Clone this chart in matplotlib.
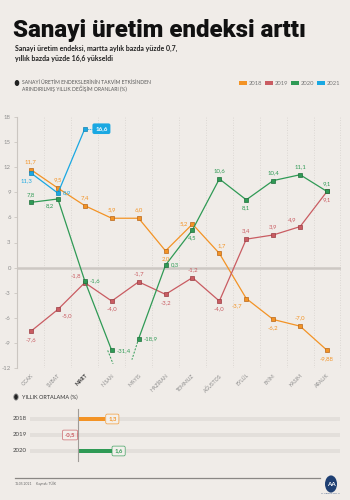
import matplotlib
matplotlib.use("Agg")
import matplotlib.pyplot as plt
from matplotlib.patches import Rectangle, Circle

# data
months = ["OCAK", "ŞUBAT", "MART", "NİSAN", "MAYIS", "HAZİRAN",
          "TEMMUZ", "AĞUSTOS", "EYLÜL", "EKİM", "KASIM", "ARALIK"]
v2018 = [11.7, 9.5, 7.4, 5.9, 5.9, 2.0, 5.2, 1.7, -3.7, -6.2, -7.0, -9.88]
v2019 = [-7.6, -5.0, -1.8, -4.0, -1.7, -3.2, -1.2, -4.0, 3.4, 3.9, 4.9, 9.1]
v2020 = [7.8, 8.2, -1.6, -31.4, -18.9, 0.3, 4.5, 10.6, 8.1, 10.4, 11.1, 9.1]
v2021 = [11.3, 8.9, 16.6]
# off-scale 2020 points are drawn at these levels in the original
off_scale_2020 = {3: -9.9, 4: -8.5}
lab2018 = ["11,7", "9,5", "7,4", "5,9", "6,0", "2,0", "5,2", "1,7", "-3,7", "-6,2", "-7,0", "-9,88"]

years = ["2018", "2019", "2020"]
avg = [1.3, -0.5, 1.6]

BG = "#f0ece8"
C18, C19, C20, C21 = "#f39325", "#c95c62", "#2f9a55", "#1aa8e2"
DK = {"a": "#b8661a", "b": "#9a3c42", "c": "#1e6e3a", "d": "#1283b3"}

W, H = 350, 500
fig = plt.figure(figsize=(3.5, 5), dpi=100, facecolor=BG)
plt.rcParams["font.family"] = ["Lato", "DejaVu Sans"]


def P(x, y):
    return x / W, 1 - y / H


# header
fig.text(*P(13, 37), "Sanayi üretim endeksi arttı", fontsize=17.3, fontweight="black",
         family=["Roboto", "DejaVu Sans"], color="#111111", va="baseline")
fig.text(*P(15, 51), "Sanayi üretim endeksi, martta aylık bazda yüzde 0,7,",
         fontsize=5.0, fontweight="bold", color="#222222", va="baseline")
fig.text(*P(15, 61), "yıllık bazda yüzde 16,6 yükseldi",
         fontsize=5.0, fontweight="bold", color="#222222", va="baseline")

fig.add_artist(Circle(P(17, 83), 1.6 / W, transform=fig.transFigure, color="#222222"))
fig.text(*P(22, 84), "SANAYİ ÜRETİM ENDEKSLERİNİN TAKVİM ETKİSİNDEN",
         fontsize=3.6, color="#555555", va="baseline")
fig.text(*P(22, 91), "ARINDIRILMIŞ YILLIK DEĞİŞİM ORANLARI (%)",
         fontsize=3.6, color="#555555", va="baseline")

for x0, yr, c in [(239, "2018", C18), (265, "2019", C19), (291, "2020", C20), (317, "2021", C21)]:
    fig.add_artist(Rectangle(P(x0, 85), 8 / W, 4 / H, transform=fig.transFigure,
                             color=c, lw=0))
    fig.text(*P(x0 + 10, 85), yr, fontsize=4.2, color="#777777", va="baseline")

# main chart
ax = fig.add_axes([17 / W, 1 - 368 / H, (341 - 17) / W, (368 - 117) / H])
ax.set_facecolor(BG)
ax.set_xlim(-0.52, 11.52)
ax.set_ylim(-12, 18)
for s in ["top", "right", "bottom"]:
    ax.spines[s].set_visible(False)
ax.spines["left"].set_color("#cbc6c1")
ax.spines["left"].set_linewidth(0.8)
ax.set_yticks(range(-12, 19, 3))
ax.set_yticklabels([str(t) for t in range(-12, 19, 3)])
ax.tick_params(axis="y", labelsize=4.3, labelcolor="#8e8e8e", color="#cbc6c1",
               length=2.5, width=0.6, pad=2)
ax.set_xticks(range(12))
ax.set_xticklabels(months)
ax.tick_params(axis="x", length=0, labelsize=3.7, labelcolor="#8a8a8a", pad=3.5)
for lb in ax.get_xticklabels():
    lb.set_rotation(45)
    lb.set_ha("right")
    lb.set_rotation_mode("anchor")
    if lb.get_text() == "MART":
        lb.set_fontweight("bold")
        lb.set_color("#333333")
for i in range(12):
    ax.axvline(i + 0.5, color="#d6d1cc", lw=0.6, ls=(0, (1, 2)), zorder=0)
ax.axhline(0, color="#cdc8c3", lw=1.8, zorder=1)

xs = list(range(12))
mk = dict(marker="s", markersize=2.8, markeredgewidth=0.5)


def lbl(x, y, t, c, pos):
    off = {"a": (0, 4, "center", "bottom"), "b": (0, -4, "center", "top"),
           "l": (-3.5, 0, "right", "center"), "r": (3.5, 0, "left", "center"),
           "al": (-3, 3, "right", "bottom"), "bl": (-3, -3, "right", "top"),
           "bc": (-3, -3.5, "center", "top"),
           "br": (3, -3, "left", "top"), "ar": (2, 4, "center", "bottom")}[pos]
    ax.annotate(t, (x, y), xytext=off[:2], textcoords="offset points", ha=off[2],
                va=off[3], fontsize=4.3, color=c, zorder=6)


# 2018
ax.plot(xs, v2018, color=C18, lw=0.9, markerfacecolor=C18, markeredgecolor=DK["a"], zorder=3, **mk)
pos18 = ["a", "a", "a", "a", "a", "b", "l", "ar", "bl", "b", "a", "b"]
for i, (v, t) in enumerate(zip(v2018, lab2018)):
    lbl(i, v, t, C18, pos18[i])

# 2019
ax.plot(xs, v2019, color=C19, lw=0.9, markerfacecolor=C19, markeredgecolor=DK["b"], zorder=3, **mk)
pos19 = ["b", "br", "al", "b", "a", "b", "a", "b", "a", "a", "al", "b"]
for i, v in enumerate(v2019):
    lbl(i, v, f"{v:.1f}".replace(".", ","), C19, pos19[i])

# 2020 (april/may off scale)
y20 = [off_scale_2020.get(i, v) for i, v in enumerate(v2020)]
ax.plot(xs[:4], y20[:4], color=C20, lw=0.9, markerfacecolor=C20, markeredgecolor=DK["c"], zorder=4, **mk)
ax.plot(xs[4:], y20[4:], color=C20, lw=0.9, markerfacecolor=C20, markeredgecolor=DK["c"], zorder=4, **mk)
ax.plot([3 - 0.15, 3 + 0.05], [y20[3], y20[3] - 1.6], color=C20, lw=0.7, ls=(0, (2, 1.5)), zorder=2)
ax.plot([4, 4 - 0.25], [y20[4], y20[4] - 2.5], color=C20, lw=0.7, ls=(0, (2, 1.5)), zorder=2)
pos20 = ["a", "bl", "r", "r", "r", "r", "b", "a", "b", "a", "a", "a"]
for i, v in enumerate(v2020):
    lbl(i, y20[i], f"{v:.1f}".replace(".", ","), C20, pos20[i])

# 2021
ax.plot(xs[:3], v2021, color=C21, lw=0.9, markerfacecolor=C21, markeredgecolor=DK["d"], zorder=5, **mk)
lbl(0, v2021[0], "11,3", C21, "bc")
lbl(1, v2021[1], "8,9", C21, "r")
ax.plot([2, 2.25], [v2021[2], v2021[2]], color=C21, lw=0.6, ls=(0, (1.5, 1)), zorder=5)
ax.annotate("16,6", (2, v2021[2]), xytext=(7.5, 0), textcoords="offset points",
            ha="left", va="center", fontsize=4.5, fontweight="bold", color="white",
            bbox=dict(boxstyle="round,pad=0.45,rounding_size=0.3", fc=C21, ec="none"), zorder=7)

# yearly average panel
fig.add_artist(Circle(P(16, 397), 2.2 / W, transform=fig.transFigure, fc="#222222",
                      ec="#999999", lw=0.6))
fig.text(*P(22, 399), "YILLIK ORTALAMA (%)", fontsize=4.0, color="#333333", va="baseline")

ax2 = fig.add_axes([30 / W, 1 - 465 / H, 310 / W, 60 / H])
ax2.set_facecolor("none")
ax2.set_xlim(-2.29, 12.48)
ax2.set_ylim(2.875, -0.875)
ax2.axis("off")
cols = [C18, C19, C20]
for i, (yr, v, c) in enumerate(zip(years, avg, cols)):
    ax2.barh(i, 12.48 + 2.29, left=-2.29, height=0.26, color="#e3dfdb", zorder=1)
    ax2.barh(i, v, left=0, height=0.3, color=c, zorder=2)
    fig.text(*P(20, [419, 435, 451][i]), yr, fontsize=4.4, color="#444444",
             ha="center", va="center")
    t = f"{v:.1f}".replace(".", ",")
    if v >= 0:
        ax2.annotate(t, (v, i), xytext=(2, 0), textcoords="offset points", ha="left",
                     va="center", fontsize=4.3, fontweight="bold", color=c, zorder=4,
                     bbox=dict(boxstyle="round,pad=0.4,rounding_size=0.25", fc="#f4f1ed",
                               ec=c, lw=0.5, alpha=0.9))
    else:
        ax2.annotate(t, (0, i), xytext=(-2, 0), textcoords="offset points", ha="right",
                     va="center", fontsize=4.3, fontweight="bold", color=c, zorder=4,
                     bbox=dict(boxstyle="round,pad=0.4,rounding_size=0.25", fc="#f4f1ed",
                               ec=c, lw=0.5, alpha=0.9))
ax2.plot([0, 0], [-0.65, 2.65], color="#a09c98", lw=0.8, zorder=3)

# footer
fig.add_artist(plt.Line2D([15 / W, 320 / W], [1 - 478 / H] * 2, transform=fig.transFigure,
                          color="#8a8784", lw=0.9))
fig.text(*P(15, 484), "11.05.2021", fontsize=2.4, color="#666666", va="center")
fig.text(*P(36, 484), "Kaynak: TÜİK", fontsize=2.4, color="#666666", va="center")
fig.add_artist(Circle(P(331, 484), 6 / W, transform=fig.transFigure, fc="#1f3f72", ec="none"))
fig.text(*P(331, 485), "AA", fontsize=4.5, fontweight="bold", color="white",
         ha="center", va="center")
fig.text(*P(331, 493), "ANADOLU AJANSI", fontsize=1.6, color="#1f3f72", ha="center", va="center")

fig.savefig("out.png", dpi=100, facecolor=BG)
